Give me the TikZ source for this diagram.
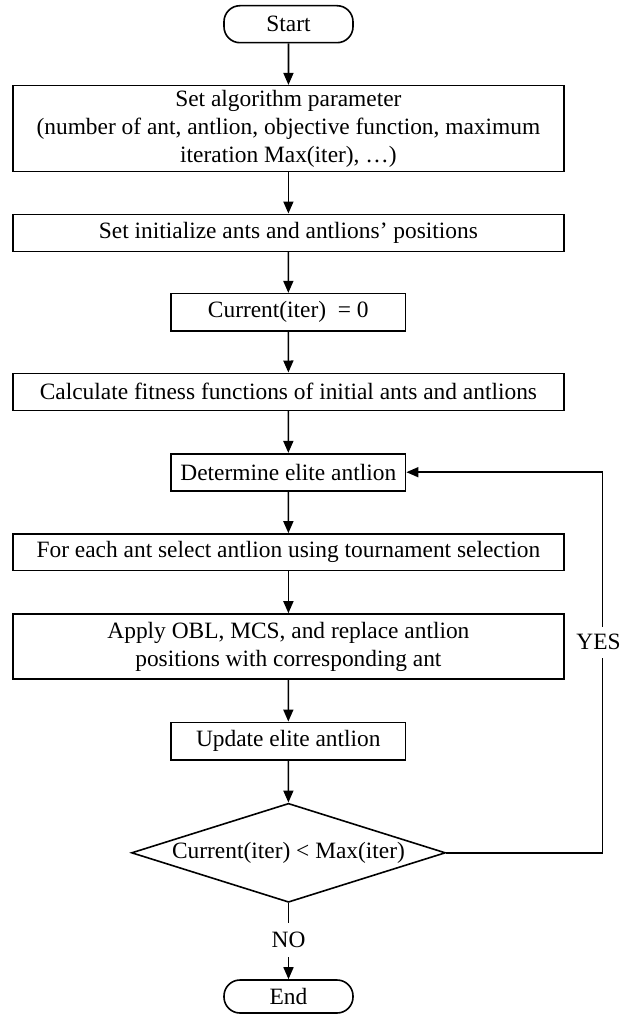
\documentclass[tikz,border=0pt]{standalone}
\usepackage{fontspec}
\setmainfont{Liberation Serif}
\usetikzlibrary{arrows.meta,shapes.geometric}
\begin{document}
\begin{tikzpicture}[x=1pt,y=-1pt,
  every node/.style={font=\fontsize{23.4}{28}\selectfont},
  proc/.style={draw, line width=1.6pt, rectangle, inner sep=0pt, align=center},
  wide/.style={proc, minimum width=551pt},
  narrow/.style={proc, minimum width=234.6pt},
  term/.style={draw, line width=1.6pt, rounded corners=16pt, minimum width=129pt, inner sep=0pt},
  flow/.style={line width=1.6pt, -{Triangle[length=12pt,width=10pt]}},
  plain/.style={line width=1.6pt},
  lbl/.style={inner sep=0pt, fill=white}
]
\useasboundingbox (0,0) rectangle (621,1014);
\node[term, minimum height=37pt] (start) at (288.5,24.2) {Start};
\node[wide, minimum height=85.6pt] (b1) at (288.4,128.5) {Set algorithm parameter\\(number of ant, antlion, objective function, maximum\\iteration Max(iter), …)};
\node[wide, minimum height=37pt] (b2) at (288.4,232.8) {Set initialize ants and antlions’ positions};
\node[narrow, minimum height=37.3pt] (b3) at (288.3,312.3) {Current(iter)\ \ = 0};
\node[wide, minimum height=37pt] (b4) at (288.4,391.8) {Calculate fitness functions of initial ants and antlions};
\node[narrow, minimum height=37pt] (b5) at (288.3,472.2) {Determine elite antlion};
\node[wide, minimum height=36.7pt] (b6) at (288.4,552.3) {For each ant select antlion using tournament selection};
\node[wide, minimum height=65pt] (b7) at (288.4,646.5) {Apply OBL, MCS, and replace antlion\\positions with corresponding ant};
\node[narrow, minimum height=37.7pt] (b8) at (288.3,741.2) {Update elite antlion};
\node[draw, diamond, aspect=3.17, minimum width=314pt, minimum height=99pt, inner sep=0pt, line width=1.6pt] (dia) at (288.5,852.8) {Current(iter) < Max(iter)};
\node[lbl, minimum height=34pt] (no) at (288.5,940) {NO};
\node[term, minimum height=33pt] (end) at (288.5,996.5) {End};
\coordinate (c1) at (602.4,852.8);
\coordinate (c2) at (602.4,472.2);

\draw[flow] (start) -- (b1);
\draw[flow] (b1) -- (b2);
\draw[flow] (b2) -- (b3);
\draw[flow] (b3) -- (b4);
\draw[flow] (b4) -- (b5);
\draw[flow] (b5) -- (b6);
\draw[flow] (b6) -- (b7);
\draw[flow] (b7) -- (b8);
\draw[flow] (b8) -- (dia);
\draw[plain] (dia.south) -- (no.north);
\draw[flow] (no.south) -- (end.north);
\draw[flow] (dia.east) -- (c1) -- (c2) -- (b5.east);
\node[lbl, minimum height=31pt] (yes) at (598.5,642) {YES};
\end{tikzpicture}
\end{document}
